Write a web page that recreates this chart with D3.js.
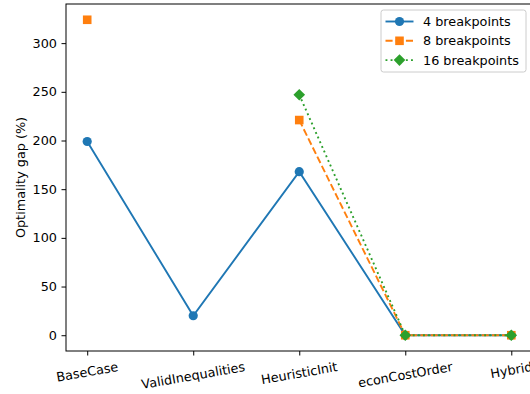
<!DOCTYPE html>
<html>
<head>
<meta charset="utf-8">
<script src="https://cdn.jsdelivr.net/npm/d3@7"></script>
<style>
  html, body { margin: 0; padding: 0; background: #fff; overflow: hidden; }
  svg { display: block; font-family: "DejaVu Sans", sans-serif; }
</style>
</head>
<body>
<svg id="chart" width="530" height="394"></svg>
<script>
// Optimality gap per strategy, one series per breakpoint count (null = no result)
const categories = ["BaseCase", "ValidInequalities", "HeuristicInit", "econCostOrder", "Hybrid"];
const gap4 = [199, 20, 168, 0, 0];
const gap8 = [324, null, 221, 0, 0];
const gap16 = [null, null, 247, 0, 0];
const seriesNames = ["4 breakpoints", "8 breakpoints", "16 breakpoints"];
const yTicks = [0, 50, 100, 150, 200, 250, 300];

const colors = ["#1f77b4", "#ff7f0e", "#2ca02c"];
const dashes = [null, "7.1,3.1", "1.9,3.2"];
const markers = ["circle", "square", "diamond"];
const seriesValues = [gap4, gap8, gap16];

const svg = d3.select("#chart");
const plot = { left: 66, top: 4, right: 532.5, bottom: 351 };

// Index-based x scale with 5% margins on each side
const x = d3.scaleLinear().domain([-0.2, categories.length - 1 + 0.2]).range([plot.left, plot.right]);
const allVals = seriesValues.flat().filter(v => v != null);
const yMin = d3.min(allVals), yMax = d3.max(allVals);
const pad = (yMax - yMin) * 0.05;
const y = d3.scaleLinear().domain([yMin - pad, yMax + pad]).range([plot.bottom, plot.top]);

const fontSize = 12.8;
const lineW = 1.9;

// Y axis
const yAxis = svg.append("g")
  .attr("transform", `translate(${plot.left},0)`)
  .call(d3.axisLeft(y).tickValues(yTicks).tickSize(4.5).tickPadding(4.5).tickFormat(d3.format("d")));
yAxis.select(".domain").remove();
yAxis.selectAll("line").attr("stroke", "#000").attr("stroke-width", 1);
yAxis.selectAll("text").attr("font-size", fontSize).attr("fill", "#000")
  .attr("font-family", "DejaVu Sans, sans-serif");

// X axis
const xAxis = svg.append("g")
  .attr("transform", `translate(0,${plot.bottom})`)
  .call(d3.axisBottom(x).tickValues(d3.range(categories.length)).tickSize(4.5).tickFormat(""));
xAxis.select(".domain").remove();
xAxis.selectAll("line").attr("stroke", "#000").attr("stroke-width", 1);

// Rotated category labels, top of rotated box just under the ticks
const rot = 10 * Math.PI / 180;
const labelTop = plot.bottom + 4.5 + 4;
categories.forEach((c, i) => {
  const t = svg.append("text")
    .attr("font-size", fontSize)
    .attr("fill", "#000")
    .attr("text-anchor", "middle")
    .attr("dominant-baseline", "central")
    .text(c);
  const w = t.node().getComputedTextLength();
  const h = fontSize * 1.1;
  const boxH = w * Math.sin(rot) + h * Math.cos(rot);
  const cy = labelTop + boxH / 2;
  t.attr("transform", `translate(${x(i)},${cy}) rotate(-10)`);
});

// Y label
svg.append("text")
  .attr("transform", `translate(20,${(plot.top + plot.bottom) / 2}) rotate(-90)`)
  .attr("text-anchor", "middle")
  .attr("dominant-baseline", "central")
  .attr("font-size", fontSize)
  .attr("fill", "#000")
  .text("Optimality gap (%)");

// Marker drawing helper
function drawMarker(g, type, cx, cy, color) {
  if (type === "circle") {
    g.append("circle").attr("cx", cx).attr("cy", cy).attr("r", 4.6).attr("fill", color);
  } else if (type === "square") {
    const s = 8.6;
    g.append("rect").attr("x", cx - s / 2).attr("y", cy - s / 2).attr("width", s).attr("height", s).attr("fill", color);
  } else {
    const r = 5.8;
    g.append("path").attr("d", `M${cx},${cy - r}L${cx + r},${cy}L${cx},${cy + r}L${cx - r},${cy}Z`).attr("fill", color);
  }
}

const line = d3.line()
  .defined(d => d.v != null)
  .x(d => x(d.i))
  .y(d => y(d.v));

const series = svg.append("g");
seriesValues.forEach((vals, s) => {
  const pts = vals.map((v, i) => ({ i, v }));
  const g = series.append("g");
  g.append("path")
    .datum(pts)
    .attr("d", line)
    .attr("fill", "none")
    .attr("stroke", colors[s])
    .attr("stroke-width", lineW)
    .attr("stroke-dasharray", dashes[s]);
  pts.filter(p => p.v != null).forEach(p => drawMarker(g, markers[s], x(p.i), y(p.v), colors[s]));
});

// Frame
svg.append("rect")
  .attr("x", plot.left).attr("y", plot.top)
  .attr("width", plot.right - plot.left).attr("height", plot.bottom - plot.top)
  .attr("fill", "none").attr("stroke", "#000").attr("stroke-width", 1);

// Legend
const legend = svg.append("g").attr("transform", "translate(381,10)");
legend.append("rect")
  .attr("width", 145).attr("height", 62).attr("rx", 2.5)
  .attr("fill", "#fff").attr("fill-opacity", 0.8)
  .attr("stroke", "#ccc").attr("stroke-width", 1);
seriesNames.forEach((name, s) => {
  const ly = 11.5 + s * 19.3;
  legend.append("line")
    .attr("x1", 4.5).attr("x2", 32.5).attr("y1", ly).attr("y2", ly)
    .attr("stroke", colors[s]).attr("stroke-width", lineW)
    .attr("stroke-dasharray", dashes[s]);
  drawMarker(legend, markers[s], 18.5, ly, colors[s]);
  legend.append("text")
    .attr("x", 42).attr("y", ly)
    .attr("dominant-baseline", "central")
    .attr("font-size", fontSize).attr("fill", "#000")
    .text(name);
});
</script>
</body>
</html>
